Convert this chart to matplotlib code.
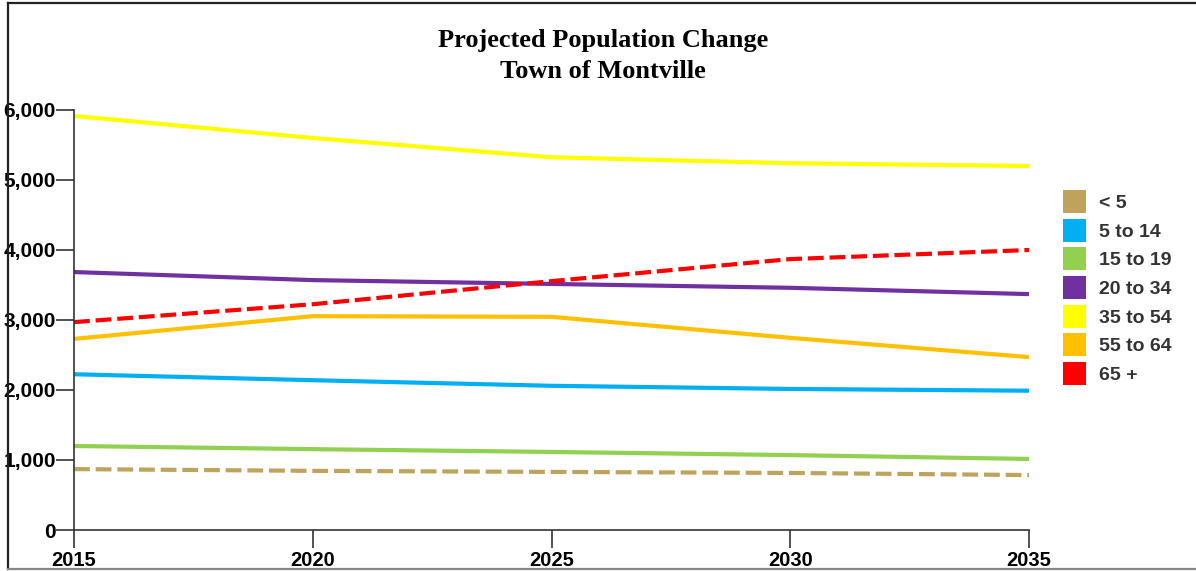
import matplotlib
matplotlib.use("Agg")
import matplotlib.pyplot as plt
from matplotlib.lines import Line2D
from matplotlib.patches import Patch
from matplotlib.ticker import FuncFormatter

# projected population by age group, Town of Montville
years = [2015, 2020, 2025, 2030, 2035]
under_5 = [870, 845, 830, 815, 785]
age_5_14 = [2225, 2140, 2060, 2015, 1990]
age_15_19 = [1200, 1155, 1115, 1070, 1015]
age_20_34 = [3685, 3570, 3515, 3460, 3370]
age_35_54 = [5915, 5600, 5325, 5240, 5200]
age_55_64 = [2730, 3055, 3045, 2745, 2470]
age_65_up = [2970, 3225, 3555, 3870, 4000]

labels = ["< 5", "5 to 14", "15 to 19", "20 to 34", "35 to 54", "55 to 64", "65 +"]
colors = ["#BFA35B", "#00B0F0", "#92D050", "#7030A0", "#FFFF00", "#FFC000", "#FF0000"]
series = [under_5, age_5_14, age_15_19, age_20_34, age_35_54, age_55_64, age_65_up]
dashed = {"< 5", "65 +"}

W, H = 1196, 571
fig = plt.figure(figsize=(W / 100, H / 100), dpi=100)
ax = fig.add_axes([74 / W, 1 - 530 / H, (1029 - 74) / W, (530 - 110) / H])

for lab, col, vals in zip(labels, colors, series):
    if lab in dashed:
        ax.plot(years, vals, color=col, lw=3, ls=(0, (3.8, 1.4)),
                solid_capstyle="butt", dash_capstyle="butt")
    else:
        ax.plot(years, vals, color=col, lw=3, solid_capstyle="butt")

ax.set_xlim(2015, 2035)
ax.set_ylim(0, 6000)
ax.set_xticks(years)
ax.set_yticks(range(0, 6001, 1000))
ax.yaxis.set_major_formatter(FuncFormatter(lambda v, p: f"{int(v):,}"))
for s in ("top", "right"):
    ax.spines[s].set_visible(False)
for s in ("left", "bottom"):
    ax.spines[s].set_color("#333333")
    ax.spines[s].set_linewidth(1.2)
ax.tick_params(axis="y", length=13, width=1.2, color="#333333",
               labelsize=15, labelcolor="black", pad=0)
ax.tick_params(axis="x", length=13, width=1.2, color="#333333",
               labelsize=14.5, labelcolor="black", pad=2)
for t in ax.get_yticklabels():
    t.set_fontweight("bold")
    t.set_family("Liberation Sans")
for t in ax.get_xticklabels():
    t.set_fontweight("bold")
    t.set_family(["Liberation Sans Narrow", "Liberation Sans"])

fig.text(0.504, 1 - 56 / H, "Projected Population Change\nTown of Montville",
         ha="center", va="center", family="Liberation Serif", fontweight="bold",
         fontsize=19, linespacing=1.45)

handles = [Patch(facecolor=c, edgecolor="none") for c in colors]
fig.legend(handles, labels, loc="upper left", bbox_to_anchor=(1063 / W, 1 - 190 / H),
           frameon=False, handlelength=1.18, handleheight=1.446, handletextpad=0.67,
           labelspacing=0.29, borderaxespad=0, borderpad=0,
           prop={"family": "Liberation Sans", "weight": "bold", "size": 14},
           labelcolor="#333333")

# outer frame lines
fig.add_artist(Line2D([8 / W, 8 / W], [1 - 3 / H, 1 - 569 / H], color="#222222", lw=1.6))
fig.add_artist(Line2D([8 / W, 1.0], [1 - 3 / H, 1 - 3 / H], color="#222222", lw=1.6))
fig.add_artist(Line2D([8 / W, 1.0], [1 - 569 / H, 1 - 569 / H], color="#888888", lw=1.6))

fig.savefig("out.png", dpi=100)
